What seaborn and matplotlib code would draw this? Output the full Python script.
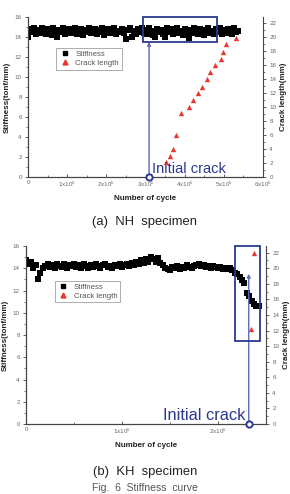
import numpy as np
import matplotlib
matplotlib.use("Agg")
import matplotlib.pyplot as plt
import seaborn as sns
from matplotlib.patches import Rectangle
from matplotlib.ticker import MultipleLocator
from matplotlib.lines import Line2D

# (a) NH specimen - stiffness vs cycles
nh_cycles = [
    0, 5000, 10000, 15000, 20000, 25000, 30000, 35000, 40000, 45000, 50000, 55000,
    60000, 65000, 70000, 75000, 80000, 85000, 90000, 95000, 100000, 105000, 110000, 115000,
    120000, 125000, 130000, 135000, 140000, 145000, 150000, 155000, 160000, 165000, 170000, 175000,
    180000, 185000, 190000, 195000, 200000, 205000, 210000, 215000, 220000, 225000, 230000, 235000,
    240000, 245000, 250000, 255000, 260000, 265000, 270000, 275000, 280000, 285000, 290000, 295000,
    300000, 305000, 310000, 315000, 320000, 325000, 330000, 335000, 340000, 345000, 350000, 355000,
    360000, 365000, 370000, 375000, 380000, 385000, 390000, 395000, 400000, 405000, 410000, 415000,
    420000, 425000, 430000, 435000, 440000, 445000, 450000, 455000, 460000, 465000, 470000, 475000,
    480000, 485000, 490000, 495000, 500000, 505000, 510000, 515000, 520000, 525000, 530000, 535000,
]
nh_stiffness = [
    14.0, 14.8, 14.5, 14.9, 14.3, 14.7, 14.4, 14.9, 14.6, 14.3, 14.8, 14.5,
    14.2, 14.9, 14.4, 14.0, 14.7, 14.5, 14.9, 14.3, 14.6, 14.8, 14.4, 14.7,
    14.9, 14.3, 14.6, 14.8, 14.2, 14.7, 14.5, 14.9, 14.4, 14.6, 14.8, 14.3,
    14.7, 14.5, 14.9, 14.2, 14.6, 14.8, 14.4, 14.7, 14.9, 14.3, 14.6, 14.5,
    14.8, 14.4, 13.8, 14.7, 14.9, 14.0, 14.6, 14.3, 14.8, 14.5, 14.9, 14.4,
    14.7, 14.3, 14.9, 14.6, 14.2, 14.0, 14.8, 14.5, 14.7, 14.3, 14.0, 14.9,
    14.5, 14.8, 14.3, 14.7, 14.9, 14.4, 14.6, 14.2, 14.8, 14.5, 13.9, 14.7,
    14.4, 14.9, 14.6, 14.3, 14.8, 14.5, 14.2, 14.7, 14.9, 14.4, 14.6, 14.3,
    14.8, 14.5, 14.9, 14.3, 14.7, 14.4, 14.8, 14.6, 14.3, 14.9, 14.5, 14.6,
]
nh_crack_cycles = [353000, 362000, 371000, 379000, 391000, 412000, 420000, 433000,
                   444000, 456000, 465000, 477000, 492000, 497000, 506000, 530000]
nh_crack_length = [2.1, 3.0, 4.0, 6.0, 9.1, 10.0, 11.0, 12.0,
                   12.9, 14.0, 15.0, 16.0, 16.9, 17.9, 19.0, 19.9]

# (b) KH specimen
kh_cycles = [
    0, 2500, 5000, 7500, 10000, 12500, 15000, 17500, 20000, 22500, 25000, 27500,
    30000, 32500, 35000, 37500, 40000, 42500, 45000, 47500, 50000, 52500, 55000, 57500,
    60000, 62500, 65000, 67500, 70000, 72500, 75000, 77500, 80000, 82500, 85000, 87500,
    90000, 92500, 95000, 97500, 100000, 102500, 105000, 107500, 110000, 112500, 115000, 117500,
    120000, 122500, 125000, 127500, 130000, 132500, 135000, 137500, 140000, 142500, 145000, 147500,
    150000, 152500, 155000, 157500, 160000, 162500, 165000, 167500, 170000, 172500, 175000, 177500,
    180000, 182500, 185000, 187500, 190000, 192500, 195000, 197500, 200000, 202500, 205000, 207500,
    210000, 212500, 215000, 217500, 220000, 222500, 225000, 227500, 230000, 232500, 235000, 237500,
    240000, 242500,
]
kh_stiffness = [
    14.7, 14.4, 14.6, 14.0, 14.3, 13.0, 13.6, 14.0, 14.2, 14.4, 14.1, 14.3,
    14.0, 14.4, 14.2, 14.1, 14.4, 14.0, 14.3, 14.2, 14.4, 14.1, 14.3, 14.0,
    14.4, 14.2, 14.0, 14.3, 14.1, 14.4, 14.2, 14.0, 14.3, 14.4, 14.1, 14.2,
    14.0, 14.3, 14.2, 14.4, 14.1, 14.3, 14.4, 14.2, 14.5, 14.3, 14.6, 14.4,
    14.7, 14.5, 14.8, 14.6, 15.0, 14.8, 14.6, 14.9, 14.5, 14.3, 14.0, 13.9,
    13.8, 14.1, 14.0, 14.2, 13.9, 14.1, 14.0, 14.3, 14.1, 14.0, 14.2, 14.3,
    14.4, 14.2, 14.3, 14.1, 14.2, 14.0, 14.2, 14.1, 14.0, 14.1, 13.9, 14.0,
    13.9, 14.0, 13.8, 13.6, 13.5, 13.2, 12.9, 12.7, 11.8, 11.5, 11.1, 10.8,
    10.6, 10.6,
]
kh_crack_cycles = [234000, 237500]
kh_crack_length = [12.2, 22.0]

NAVY = "#2b3990"
LINE_BLUE = "#5b6cbf"
RED = "#e8372c"

sns.set_style("ticks")
plt.rcParams["font.family"] = ["Liberation Sans", "DejaVu Sans"]
plt.rcParams["mathtext.default"] = "regular"


def draw_panel(ax, cycles, stiff, c_cycles, c_len, xmax, xticks, box, init_x, arrow_top,
               text_fs, text_pos, text_ha):
    sns.scatterplot(x=cycles, y=stiff, ax=ax, marker="s", color="black", s=13,
                    linewidth=0, legend=False, zorder=3)
    twin = ax.twinx()
    sns.scatterplot(x=c_cycles, y=c_len, ax=twin, marker="^", color=RED, s=15,
                    linewidth=0, legend=False, zorder=3)

    ax.set_xlim(0, xmax)
    ax.set_ylim(0, 16)
    twin.set_ylim(0, 16 / 0.7)

    ax.set_xticks(xticks)
    ax.set_xticklabels(["0"] + [r"%dx10$^{5}$" % (t / 1e5) for t in xticks[1:]])
    ax.xaxis.set_minor_locator(MultipleLocator(50000))
    ax.set_yticks(range(0, 17, 2))
    ax.yaxis.set_minor_locator(MultipleLocator(1))
    twin.set_yticks(range(0, 23, 2))
    twin.yaxis.set_minor_locator(MultipleLocator(1))

    for a in (ax, twin):
        a.spines["top"].set_visible(False)
        for sp in a.spines.values():
            sp.set_color("#444444")
            sp.set_linewidth(0.8)
        a.tick_params(which="major", labelsize=4.5, labelcolor="#666666", length=2.5,
                      width=0.6, color="#444444", pad=2)
        a.tick_params(which="minor", length=1.5, width=0.5, color="#444444")
    ax.spines["right"].set_visible(False)
    ax.tick_params(axis="x", which="both", direction="in")

    ax.set_xlabel("Number of cycle", fontsize=5.8, fontweight="bold", color="#222222",
                  labelpad=4)
    ax.set_ylabel("Stiffness(tonf/mm)", fontsize=5.8, fontweight="bold", color="#222222",
                  labelpad=3)
    twin.set_ylabel("Crack length(mm)", fontsize=5.8, fontweight="bold", color="#222222",
                    labelpad=3)

    # highlight box and initial crack marker
    bx0, bx1, by0 = box
    twin.add_patch(Rectangle((bx0, by0 / 0.7), bx1 - bx0, (16 - by0) / 0.7, fill=False,
                             edgecolor=NAVY, linewidth=1.3, clip_on=False, zorder=4))
    twin.annotate("", xy=(init_x, arrow_top / 0.7), xytext=(init_x, 0),
                  arrowprops=dict(arrowstyle="-|>", color=LINE_BLUE, lw=1.0,
                                  mutation_scale=5, shrinkA=0, shrinkB=0))
    twin.plot([init_x], [0], marker="o", markersize=4.5, markerfacecolor="white",
              markeredgecolor=NAVY, markeredgewidth=1.4, clip_on=False, zorder=6)
    twin.text(text_pos[0], text_pos[1], "Initial crack", fontsize=text_fs, color=NAVY,
              ha=text_ha, va="bottom", zorder=5)

    handles = [
        Line2D([], [], linestyle="none", marker="s", color="black", markersize=2.8),
        Line2D([], [], linestyle="none", marker="^", color=RED, markersize=3.5),
    ]
    leg = twin.legend(handles, ["Stiffness", "Crack length"], loc="upper left",
                      bbox_to_anchor=(0.12, 0.806), fontsize=5.6, frameon=True,
                      fancybox=False, edgecolor="#888888", borderaxespad=0,
                      handletextpad=0.6, labelspacing=0.2, borderpad=0.35,
                      handlelength=1.5)
    leg.get_frame().set_linewidth(0.6)
    for t in leg.get_texts():
        t.set_color("#555555")
    return twin


fig = plt.figure(figsize=(2.9, 4.94), dpi=100)
ax1 = fig.add_axes([0.0966, 0.6417, 0.8104, 0.3239])
ax2 = fig.add_axes([0.0897, 0.1417, 0.8276, 0.3603])

draw_panel(ax1, nh_cycles, nh_stiffness, nh_crack_cycles, nh_crack_length,
           600000, [0, 100000, 200000, 300000, 400000, 500000, 600000],
           (293000, 482000, 13.5), 309000, 13.5, 10.5, (316000, 0.1), "left")
draw_panel(ax2, kh_cycles, kh_stiffness, kh_crack_cycles, kh_crack_length,
           250000, [0, 100000, 200000],
           (218000, 244000, 7.5), 232000, 13.5, 11.8, (229000, 0.1), "right")

fig.text(0.5, 1 - 222 / 494, "(a)  NH  specimen", fontsize=9.4, color="#222222",
         ha="center", va="center")
fig.text(0.5, 1 - 472 / 494, "(b)  KH  specimen", fontsize=9.4, color="#222222",
         ha="center", va="center")
fig.text(0.5, 1 - 493 / 494, "Fig.  6  Stiffness  curve", fontsize=7.5, color="#555555",
         ha="center", va="bottom")

fig.savefig("out.png", dpi=100)
